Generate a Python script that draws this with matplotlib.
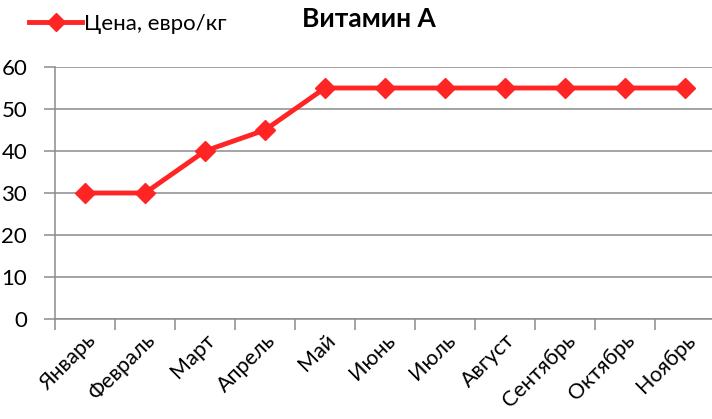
import matplotlib
matplotlib.use("Agg")
import matplotlib.pyplot as plt
from matplotlib.lines import Line2D

months = ["Январь", "Февраль", "Март", "Апрель", "Май", "Июнь", "Июль",
          "Август", "Сентябрь", "Октябрь", "Ноябрь"]
price = [30, 30, 40, 45, 55, 55, 55, 55, 55, 55, 55]
y_ticks = [0, 10, 20, 30, 40, 50, 60]

RED = "#ff2525"
GRID = "#8c8c8c"

plt.rcParams["font.family"] = ["Lato", "DejaVu Sans"]

fig = plt.figure(figsize=(7.12, 4.19), dpi=100)
W, H = 712, 419
ax = fig.add_axes([55 / W, (H - 319) / H, 660 / W, 252 / H])

x = list(range(len(months)))
ax.plot(x, price, color=RED, linewidth=3.5, marker="D", markersize=10,
        markerfacecolor=RED, markeredgecolor=RED, solid_joinstyle="round",
        clip_on=False, zorder=3)

ax.set_xlim(-0.5, len(months) - 0.5)
ax.set_ylim(0, 60)
ax.set_yticks(y_ticks)
ax.set_yticklabels([str(v) for v in y_ticks], fontsize=16)
ax.yaxis.grid(True, color=GRID, linewidth=1.1)
ax.set_axisbelow(True)

ax.set_xticks([i - 0.5 for i in range(len(months) + 1)], minor=False)
ax.set_xticklabels([""] * (len(months) + 1))
ax.set_xticks(x, minor=True)
ax.set_xticklabels(months, minor=True, rotation=45, ha="right",
                   rotation_mode="anchor", fontsize=15.5)
ax.tick_params(axis="x", which="minor", length=0, pad=8)
ax.tick_params(axis="x", which="major", length=8, width=1.1, color=GRID)
ax.tick_params(axis="y", length=8, width=1.1, color=GRID, pad=12)

for side in ["top", "right"]:
    ax.spines[side].set_visible(False)
for side in ["left", "bottom"]:
    ax.spines[side].set_color(GRID)
    ax.spines[side].set_linewidth(1.1)

fig.text(369 / W, 1 - 19 / H, "Витамин А", ha="center", va="center",
         fontsize=19, fontweight="bold")

handle = Line2D([], [], color=RED, linewidth=3.5, marker="D", markersize=9,
                markerfacecolor=RED, markeredgecolor=RED)
fig.legend([handle], ["Цена, евро/кг"], loc="center left",
           bbox_to_anchor=(20 / W, 1 - 24 / H), frameon=False, fontsize=16,
           handlelength=2.4, handletextpad=0.1, borderaxespad=0)

fig.savefig("out.png", dpi=100)
